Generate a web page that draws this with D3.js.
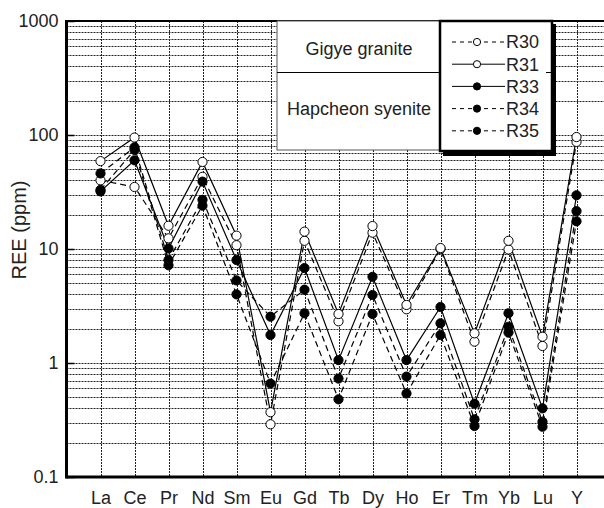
<!DOCTYPE html>
<html>
<head>
<meta charset="utf-8">
<script src="https://cdn.jsdelivr.net/npm/d3@7"></script>
<style>
  html, body { margin: 0; padding: 0; background: #fff; }
  svg { display: block; font-family: "Liberation Sans", Arial, sans-serif; }
</style>
</head>
<body>
<svg id="chart" width="604" height="508"></svg>
<script>
// ── Data (ppm) ────────────────────────────────────────────────────────────
const ELEMENTS = ['La', 'Ce', 'Pr', 'Nd', 'Sm', 'Eu', 'Gd', 'Tb', 'Dy', 'Ho', 'Er', 'Tm', 'Yb', 'Lu', 'Y'];
const R30 = [40, 35, 12.4, 43, 10.8, 0.29, 11.8, 2.32, 13.9, 2.96, 10.0, 1.54, 9.9, 1.41, 87];
const R31 = [59, 95, 16, 58, 13.1, 0.37, 14.2, 2.69, 15.9, 3.23, 10.2, 1.82, 11.8, 1.70, 96];
const R33 = [32, 60, 10.1, 39, 8.0, 1.76, 6.8, 1.06, 5.7, 1.06, 3.1, 0.44, 2.73, 0.40, 29.6];
const R34 = [46, 78, 8.0, 27, 5.3, 2.55, 4.4, 0.73, 3.95, 0.76, 2.23, 0.32, 2.08, 0.305, 21.5];
const R35 = [33, 74, 7.2, 24, 4.0, 0.66, 2.73, 0.48, 2.69, 0.54, 1.76, 0.28, 1.85, 0.276, 17.5];
const Y_TICKS = [0.1, 1, 10, 100, 1000];
const GROUPS = ['Gigye granite', 'Hapcheon syenite'];

const SERIES = [
  { name: 'R30', values: R30, filled: false, dashed: true },
  { name: 'R31', values: R31, filled: false, dashed: false },
  { name: 'R33', values: R33, filled: true,  dashed: false },
  { name: 'R34', values: R34, filled: true,  dashed: true },
  { name: 'R35', values: R35, filled: true,  dashed: true },
];

const svg = d3.select('#chart');
const LEFT = 66.5, TOP = 21, BOTTOM = 477, RIGHT = 610.5;

const x = d3.scalePoint().domain(ELEMENTS).range([LEFT, RIGHT]).padding(1);
const y = d3.scaleLog().domain([0.1, 1000]).range([BOTTOM, TOP]);

svg.append('rect').attr('width', 604).attr('height', 508).attr('fill', '#fff');

// ── Grid ──────────────────────────────────────────────────────────────────
const gridG = svg.append('g')
  .attr('stroke', '#222').attr('stroke-width', 1).attr('stroke-dasharray', '2,1');

const minor = [];
[0.1, 1, 10, 100].forEach(d => { for (let k = 1; k <= 9; k++) minor.push(d * k); });
gridG.selectAll('line.h').data(minor.filter(v => v > 0.1)).join('line')
  .attr('class', 'h')
  .attr('x1', LEFT).attr('x2', 604)
  .attr('y1', d => Math.round(y(d)) + 0.5).attr('y2', d => Math.round(y(d)) + 0.5);

gridG.selectAll('line.v').data(ELEMENTS).join('line')
  .attr('class', 'v')
  .attr('x1', d => Math.round(x(d)) + 0.5).attr('x2', d => Math.round(x(d)) + 0.5)
  .attr('y1', TOP).attr('y2', BOTTOM);

// ── Axes ──────────────────────────────────────────────────────────────────
svg.append('g')
  .attr('transform', `translate(${LEFT},0)`)
  .call(d3.axisLeft(y).tickValues(Y_TICKS).tickFormat(d => String(d)).tickSize(-8).tickPadding(8))
  .call(g => g.select('.domain').remove())
  .call(g => g.selectAll('line').attr('stroke', '#000').attr('stroke-width', 1.5))
  .call(g => g.selectAll('text').attr('font-size', 18).attr('fill', '#222')
    .attr('font-family', '"Liberation Sans", Arial, sans-serif'));

svg.append('g')
  .attr('transform', `translate(0,${BOTTOM})`)
  .call(d3.axisBottom(x).tickSize(0).tickPadding(14))
  .call(g => g.select('.domain').remove())
  .call(g => g.selectAll('text').attr('font-size', 18).attr('fill', '#222')
    .attr('font-family', '"Liberation Sans", Arial, sans-serif'));

// frame
svg.append('line').attr('x1', LEFT).attr('x2', 604).attr('y1', TOP).attr('y2', TOP)
  .attr('stroke', '#000').attr('stroke-width', 2);
svg.append('line').attr('x1', LEFT).attr('x2', 604).attr('y1', BOTTOM).attr('y2', BOTTOM)
  .attr('stroke', '#000').attr('stroke-width', 3);
svg.append('line').attr('x1', LEFT).attr('x2', LEFT).attr('y1', TOP - 1).attr('y2', BOTTOM + 1.5)
  .attr('stroke', '#000').attr('stroke-width', 3);

svg.append('text')
  .attr('transform', `translate(26,${(TOP + BOTTOM) / 2 - 19}) rotate(-90)`)
  .attr('text-anchor', 'middle')
  .attr('font-size', 20).attr('fill', '#222')
  .text('REE (ppm)');

// ── Lines + markers ───────────────────────────────────────────────────────
const line = d3.line().x((d, i) => x(ELEMENTS[i])).y(d => y(d));
const linesG = svg.append('g');
SERIES.forEach(s => {
  linesG.append('path')
    .attr('d', line(s.values))
    .attr('fill', 'none')
    .attr('stroke', '#000')
    .attr('stroke-width', 1.2)
    .attr('stroke-dasharray', s.dashed ? '6,4' : null);
});
const dotsG = svg.append('g');
SERIES.forEach(s => {
  dotsG.selectAll(null).data(s.values).join('circle')
    .attr('cx', (d, i) => x(ELEMENTS[i]))
    .attr('cy', d => y(d))
    .attr('r', 4.6)
    .attr('fill', s.filled ? '#000' : '#fff')
    .attr('stroke', '#000')
    .attr('stroke-width', 1);
});

// ── Legend ────────────────────────────────────────────────────────────────
const lg = svg.append('g');
lg.append('rect').attr('x', 277).attr('y', TOP).attr('width', 163).attr('height', 129)
  .attr('fill', '#fff').attr('stroke', '#555').attr('stroke-width', 1);
lg.append('line').attr('x1', 277).attr('x2', 440).attr('y1', 72.5).attr('y2', 72.5)
  .attr('stroke', '#000').attr('stroke-width', 1);
lg.append('text').attr('x', 359).attr('y', 55).attr('text-anchor', 'middle')
  .attr('font-size', 18).attr('fill', '#222').text(GROUPS[0]);
lg.append('text').attr('x', 359).attr('y', 115).attr('text-anchor', 'middle')
  .attr('font-size', 18).attr('fill', '#222').text(GROUPS[1]);

// shadow + framed key box
lg.append('rect').attr('x', 443).attr('y', TOP + 3).attr('width', 113).attr('height', 132)
  .attr('fill', '#000');
lg.append('rect').attr('x', 440).attr('y', TOP).attr('width', 112).attr('height', 130)
  .attr('fill', '#fff').attr('stroke', '#000').attr('stroke-width', 2.5);
lg.append('line').attr('x1', 546).attr('x2', 551).attr('y1', 72.5).attr('y2', 72.5)
  .attr('stroke', '#000').attr('stroke-width', 1);

const ROW0 = 42, ROW_H = 22.2;
SERIES.forEach((s, i) => {
  const yy = ROW0 + i * ROW_H;
  lg.append('line').attr('x1', 452).attr('x2', 505).attr('y1', yy).attr('y2', yy)
    .attr('stroke', '#000').attr('stroke-width', 1)
    .attr('stroke-dasharray', s.dashed ? '4,4' : null);
  lg.append('circle').attr('cx', 477).attr('cy', yy).attr('r', 3.6)
    .attr('fill', s.filled ? '#000' : '#fff').attr('stroke', '#000').attr('stroke-width', 1);
  lg.append('text').attr('x', 506).attr('y', yy).attr('dy', '0.36em')
    .attr('font-size', 18).attr('fill', '#222').text(s.name);
});
</script>
</body>
</html>
